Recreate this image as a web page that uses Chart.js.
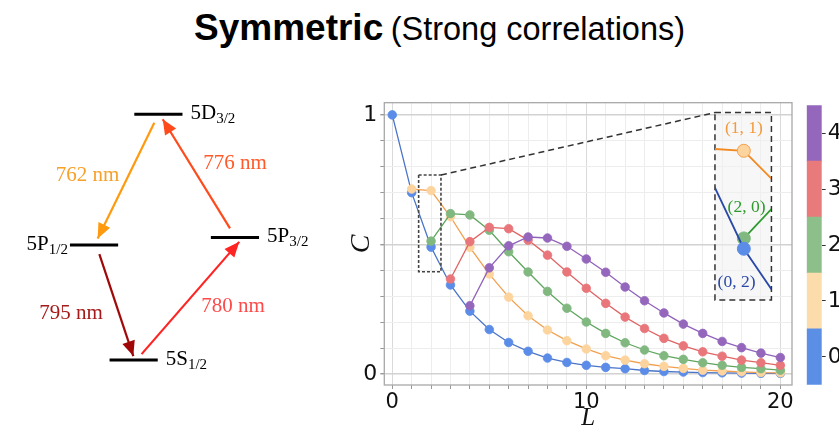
<!DOCTYPE html>
<html><head><meta charset="utf-8">
<script src="https://cdn.jsdelivr.net/npm/chart.js@4.4.1/dist/chart.umd.min.js"></script>
<style>
html,body{margin:0;padding:0;background:#fff;width:839px;height:435px;overflow:hidden;}
#wrap{position:relative;width:839px;height:435px;}
canvas{position:absolute;}
#title{position:absolute;left:194px;top:7px;white-space:nowrap;font-family:"Liberation Sans",Arial,sans-serif;color:#000;line-height:42px;}
#title b{font-size:37px;font-weight:bold;}
#title span{font-size:32.5px;margin-left:3px;}
</style></head><body>
<div id="wrap">
<div id="title"><b>Symmetric</b> <span>(Strong correlations)</span></div>
<canvas id="diag" width="330" height="375" style="left:0px;top:60px;width:330px;height:375px"></canvas>
<canvas id="main" width="475" height="375" style="left:330px;top:60px;width:475px;height:375px"></canvas>
<canvas id="inset" width="10" height="10"></canvas>
<canvas id="cbar" width="34" height="310" style="left:805px;top:90px;width:34px;height:310px"></canvas>
</div>
<script>
// ---------------- data ----------------
const L = [0,1,2,3,4,5,6,7,8,9,10,11,12,13,14,15,16,17,18,19,20];
const corr0 = [1.0,0.70,0.49,0.344,0.243,0.172,0.122,0.088,0.062,0.045,0.034,0.026,0.021,0.014,0.010,0.008,0.006,0.005,0.004,0.003,0.003];
const corr1 = [null,0.714,0.708,0.607,0.489,0.386,0.297,0.225,0.170,0.129,0.097,0.071,0.054,0.040,0.030,0.022,0.015,0.012,0.009,0.006,0.005];
const corr2 = [null,null,0.513,0.619,0.614,0.555,0.472,0.394,0.319,0.254,0.201,0.157,0.121,0.093,0.071,0.057,0.044,0.034,0.026,0.021,0.015];
const corr3 = [null,null,null,0.367,0.511,0.566,0.561,0.517,0.459,0.394,0.331,0.273,0.220,0.176,0.138,0.109,0.086,0.069,0.054,0.044,0.034];
const corr4 = [null,null,null,null,0.264,0.410,0.495,0.529,0.525,0.493,0.444,0.393,0.336,0.283,0.236,0.193,0.157,0.126,0.102,0.081,0.064];
const seriesNames = ['0','1','2','3','4'];
const xTickValues = [0,1,2,3,4,5,6,7,8,9,10,11,12,13,14,15,16,17,18,19,20];
const xTickLabels = [0,10,20];
const yTickValues = [0,0.1,0.2,0.3,0.4,0.5,0.6,0.7,0.8,0.9,1.0];
const yTickLabels = [0,1];
const insetLabels = ['(1, 1)','(2, 0)','(0, 2)'];
const insetLabelSeries = [1,2,0];
const insetLabelPos = [[2.0,0.758],[2.06,0.583],[1.838,0.416]];
const cbarTickLabels = ['0','1','2','3','4'];

// energy-level diagram
const levelNames = ['5S','5P','5P','5D'];
const levelSubs = ['1/2','1/2','3/2','3/2'];
const levelX = [4.05,2.85,7.12,4.8];
const levelE = [0,4.68,4.99,10.0];
const levelSide = ['right','left','right','right'];
const arrowLabels = ['762 nm','776 nm','795 nm','780 nm'];
const arrowFrom = [[4.676,9.66],[6.97,5.36],[3.01,4.31],[4.29,0.24]];
const arrowTo = [[2.96,4.95],[4.93,9.80],[4.04,0.16],[7.25,4.81]];
const arrowLabelPos = [[2.65,7.53],[7.12,7.98],[2.15,1.90],[7.06,2.17]];

// ---------------- styles ----------------
const series = [corr0,corr1,corr2,corr3,corr4];
const lineColors = ['#4a74c8','#f2a04e','#5ea55e','#e06464','#9161bb'];
const pointColors = ['#5b8de8','#fdd49e','#80b880','#e8767a','#9467bd'];
const insetLineColors = ['#2a48a8','#f28a22','#2e9a2e','#e06464','#9161bb'];
const insetTextColors = ['#2a48a8','#f59a3a','#2e9a2e'];
const cbarColors = ['#5b8fe6','#fddcab','#8dbf8b','#e87a7b','#9467bd'];
const arrowColors = ['#ff9a0e','#ff4a1c','#a00808','#ff2424'];
const arrowTextColors = ['#f7a12a','#ff5a2a','#a51a1a','#ff4a4a'];
const zoomRect = {x0:1.36,x1:2.51,y0:0.395,y1:0.768};
const insetBox = {x0:16.63,x1:19.54,y0:0.286,y1:1.009};
const insetRange = {x0:1.356,x1:2.607,y0:0.376,y1:0.792};

const isIn = (v, arr) => arr.some(a => Math.abs(a - v) < 1e-6);

// ---------------- main chart ----------------
const mainDatasets = series.map((s,k)=>({
  label: seriesNames[k],
  data: L.map((x,i)=>({x:x,y:s[i]})),
  borderColor: lineColors[k],
  backgroundColor: pointColors[k],
  pointBackgroundColor: pointColors[k],
  pointBorderColor: pointColors[k],
  borderWidth: 1.3,
  pointRadius: 4.3,
  pointBorderWidth: 0.8,
  pointHoverRadius: 4.3,
  tension: 0,
  order: 4-k,
  clip: false
}));

const framePlugin = {
  id:'frame',
  afterDatasetsDraw(chart){
    const {ctx, chartArea:a, scales:{x,y}} = chart;
    ctx.save();
    ctx.strokeStyle = '#a8a8a8'; ctx.lineWidth = 1.3; ctx.setLineDash([]);
    ctx.strokeRect(a.left, a.top, a.right-a.left, a.bottom-a.top);
    const zx0=x.getPixelForValue(zoomRect.x0), zx1=x.getPixelForValue(zoomRect.x1);
    const zy0=y.getPixelForValue(zoomRect.y0), zy1=y.getPixelForValue(zoomRect.y1);
    ctx.strokeStyle='#444'; ctx.lineWidth=1.6; ctx.setLineDash([3,2]);
    ctx.strokeRect(zx0, zy1, zx1-zx0, zy0-zy1);
    const bx0=x.getPixelForValue(insetBox.x0), bx1=x.getPixelForValue(insetBox.x1);
    const by0=y.getPixelForValue(insetBox.y0), by1=y.getPixelForValue(insetBox.y1);
    ctx.setLineDash([]);
    ctx.fillStyle='rgba(240,240,240,0.55)';
    ctx.fillRect(bx0, by1, bx1-bx0, by0-by1);
    ctx.strokeStyle='#333'; ctx.lineWidth=1.5; ctx.setLineDash([6,4]);
    ctx.strokeRect(bx0, by1, bx1-bx0, by0-by1);
    ctx.beginPath(); ctx.moveTo(zx1, zy1); ctx.lineTo(bx0, by1); ctx.stroke();
    ctx.restore();
  }
};

const mainChart = new Chart(document.getElementById('main'), {
  type:'line',
  data:{datasets: mainDatasets},
  options:{
    responsive:false, animation:false, events:[],
    layout:{padding:{top:42.7,right:13,left:0,bottom:0}},
    plugins:{legend:{display:false}, tooltip:{enabled:false}},
    scales:{
      x:{type:'linear', min:-0.41, max:20.6,
        afterBuildTicks(s){ s.ticks = xTickValues.map(v=>({value:v})); },
        afterFit(s){ s.height = 50; },
        ticks:{autoSkip:false, maxRotation:0, padding:1, color:'#111',
          font:{family:'"DejaVu Sans", sans-serif', size:21},
          callback:(v)=> isIn(v,xTickLabels) ? String(v) : ''},
        grid:{color:(c)=> (c.tick && c.tick.value % 10 === 0) ? '#dadada' : '#ededed',
          tickColor:'#999', tickLength:4, lineWidth:1},
        border:{display:false},
        title:{display:true, text:'L', color:'#111',
          font:{family:'"Liberation Serif", serif', style:'italic', size:25, lineHeight:1},
          padding:{top:0,bottom:4}}
      },
      y:{type:'linear', min:-0.042, max:1.047,
        afterBuildTicks(s){ s.ticks = yTickValues.map(v=>({value:v})); },
        afterFit(s){ s.width = 54.3; },
        ticks:{autoSkip:false, padding:3, color:'#111',
          font:{family:'"DejaVu Sans", sans-serif', size:22},
          callback:(v)=> isIn(v,yTickLabels) ? String(Math.round(v)) : ''},
        grid:{color:(c)=> (c.tick && Math.abs(c.tick.value*2-Math.round(c.tick.value*2))<1e-6) ? '#d2d2d2' : '#ededed',
          lineWidth:(c)=> (c.tick && Math.abs(c.tick.value*2-Math.round(c.tick.value*2))<1e-6) ? 1.4 : 1,
          tickColor:'#999', tickLength:4},
        border:{display:false},
        title:{display:true, text:'C', color:'#111',
          font:{family:'"Liberation Serif", serif', style:'italic', size:28, lineHeight:1},
          padding:{top:18,bottom:0}}
      }
    }
  },
  plugins:[framePlugin]
});

// ---------------- inset chart ----------------
(function(){
  const x = mainChart.scales.x, y = mainChart.scales.y;
  const bx0=x.getPixelForValue(insetBox.x0), bx1=x.getPixelForValue(insetBox.x1);
  const by0=y.getPixelForValue(insetBox.y0), by1=y.getPixelForValue(insetBox.y1);
  const cv = document.getElementById('inset');
  const w = bx1-bx0, h = by0-by1;
  cv.width = Math.round(w); cv.height = Math.round(h);
  cv.style.left = (330+bx0)+'px'; cv.style.top = (60+by1)+'px';
  cv.style.width = Math.round(w)+'px'; cv.style.height = Math.round(h)+'px';
  const insetDatasets = series.map((s,k)=>({
    label: seriesNames[k],
    data: L.map((xx,i)=>({x:xx,y:s[i]})),
    borderColor: insetLineColors[k],
    pointBackgroundColor: pointColors[k],
    pointBorderColor: k===1 ? '#f2a04e' : pointColors[k],
    pointBorderWidth: 1,
    borderWidth: 1.8,
    pointRadius: (c)=> (c.raw && c.raw.x===2 && k<3) ? 6.5 : 0,
    order: k===0 ? 0 : (k===2 ? 1 : k+1),
    tension:0
  }));
  const labelPlugin = {
    id:'insetLabels',
    afterDatasetsDraw(chart){
      const {ctx, scales:{x:sx,y:sy}} = chart;
      ctx.save();
      ctx.font = '17.5px "Liberation Serif", serif';
      ctx.textAlign='center'; ctx.textBaseline='middle';
      insetLabels.forEach((t,i)=>{
        ctx.fillStyle = insetTextColors[insetLabelSeries[i]];
        ctx.fillText(t, sx.getPixelForValue(insetLabelPos[i][0]), sy.getPixelForValue(insetLabelPos[i][1]));
      });
      ctx.restore();
    }
  };
  new Chart(cv, {
    type:'line',
    data:{datasets: insetDatasets},
    options:{
      responsive:false, animation:false, events:[],
      layout:{padding:0},
      plugins:{legend:{display:false}, tooltip:{enabled:false}},
      scales:{
        x:{type:'linear', display:false, min:insetRange.x0, max:insetRange.x1},
        y:{type:'linear', display:false, min:insetRange.y0, max:insetRange.y1}
      }
    },
    plugins:[labelPlugin]
  });
})();

// ---------------- colorbar ----------------
new Chart(document.getElementById('cbar'), {
  type:'bar',
  data:{labels:['C'], datasets: cbarColors.map((c,k)=>({label:seriesNames[k], data:[1], backgroundColor:c, borderWidth:0, barPercentage:1, categoryPercentage:1}))},
  options:{
    responsive:false, animation:false, events:[],
    layout:{padding:{left:1.7,top:12.3,bottom:15,right:0}},
    plugins:{legend:{display:false}, tooltip:{enabled:false}},
    scales:{
      x:{display:false, stacked:true},
      y:{stacked:true, position:'right', min:0, max:5,
        afterBuildTicks(s){ s.ticks = cbarTickLabels.map((t,i)=>({value:i+0.5})); },
        afterFit(s){ s.width = 17.3; },
        ticks:{padding:2, color:'#111', font:{family:'"DejaVu Sans", sans-serif', size:22},
          callback:(v)=> cbarTickLabels[Math.round(v-0.5)]},
        grid:{drawOnChartArea:false, tickLength:4, tickColor:'#333'},
        border:{display:false}
      }
    }
  }
});

// ---------------- level diagram ----------------
const diagPlugin = {
  id:'diag',
  afterDatasetsDraw(chart){
    const {ctx, scales:{x,y}} = chart;
    ctx.save();
    arrowFrom.forEach((f,i)=>{
      const x0=x.getPixelForValue(f[0]), y0=y.getPixelForValue(f[1]);
      const x1=x.getPixelForValue(arrowTo[i][0]), y1=y.getPixelForValue(arrowTo[i][1]);
      const ang=Math.atan2(y1-y0,x1-x0), len=15, hw=6.5;
      ctx.fillStyle=arrowColors[i];
      ctx.beginPath();
      ctx.moveTo(x1,y1);
      ctx.lineTo(x1-len*Math.cos(ang)+hw*Math.sin(ang), y1-len*Math.sin(ang)-hw*Math.cos(ang));
      ctx.lineTo(x1-len*Math.cos(ang)-hw*Math.sin(ang), y1-len*Math.sin(ang)+hw*Math.cos(ang));
      ctx.closePath(); ctx.fill();
      ctx.font='21px "Liberation Serif", serif';
      ctx.textAlign='center'; ctx.textBaseline='middle';
      ctx.fillStyle=arrowTextColors[i];
      ctx.fillText(arrowLabels[i], x.getPixelForValue(arrowLabelPos[i][0]), y.getPixelForValue(arrowLabelPos[i][1]));
    });
    levelNames.forEach((n,i)=>{
      const py=y.getPixelForValue(levelE[i]);
      ctx.fillStyle='#000'; ctx.textBaseline='middle'; ctx.textAlign='left';
      ctx.font='21px "Liberation Serif", serif';
      const w1=ctx.measureText(n).width;
      ctx.font='15px "Liberation Serif", serif';
      const w2=ctx.measureText(levelSubs[i]).width;
      let px;
      if(levelSide[i]==='right'){ px=x.getPixelForValue(levelX[i]+0.73)+8; }
      else { px=x.getPixelForValue(levelX[i]-0.73)-2-w1-w2; }
      ctx.font='21px "Liberation Serif", serif';
      ctx.fillText(n, px, py-1);
      ctx.font='15px "Liberation Serif", serif';
      ctx.fillText(levelSubs[i], px+w1, py+5);
    });
    ctx.restore();
  }
};
const diagDatasets = [];
levelNames.forEach((n,i)=>{
  diagDatasets.push({data:[{x:levelX[i]-0.73,y:levelE[i]},{x:levelX[i]+0.73,y:levelE[i]}], borderColor:'#000', borderWidth:3, pointRadius:0, borderCapStyle:'butt'});
});
arrowFrom.forEach((f,i)=>{
  diagDatasets.push({data:[{x:f[0],y:f[1]},{x:arrowTo[i][0],y:arrowTo[i][1]}], borderColor:arrowColors[i], borderWidth:2.2, pointRadius:0});
});
new Chart(document.getElementById('diag'), {
  type:'scatter',
  data:{datasets: diagDatasets.map(d=>Object.assign({showLine:true, clip:false}, d))},
  options:{
    responsive:false, animation:false, events:[],
    layout:{padding:0},
    plugins:{legend:{display:false}, tooltip:{enabled:false}},
    scales:{
      x:{type:'linear', display:false, min:0, max:10},
      y:{type:'linear', display:false, min:-3.05, max:12.21}
    }
  },
  plugins:[diagPlugin]
});
</script>
</body></html>
